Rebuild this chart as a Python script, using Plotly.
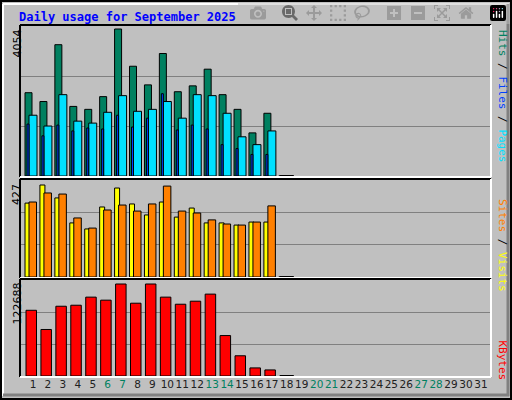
import plotly.graph_objects as go

days = list(range(1, 32))
data_days = list(range(1, 19))
hits = [2297, 2054, 3621, 1919, 1838, 2189, 4054, 3027, 2513, 3378, 2324, 2486, 2946, 2243, 1838, 1189, 1730, 0]
pages = [1676, 1378, 2243, 1513, 1459, 1757, 2216, 1784, 1838, 2054, 1595, 2243, 2216, 1730, 1081, 865, 1243, 0]
files = [1432, 1108, 1405, 1243, 1324, 1297, 1676, 1351, 1595, 2270, 1270, 1405, 1297, 865, 757, 595, 595, 0]
visits = [343, 427, 367, 251, 223, 325, 413, 339, 288, 348, 278, 320, 251, 251, 241, 255, 255, 0]
sites = [348, 390, 385, 274, 227, 311, 334, 306, 339, 422, 306, 297, 265, 246, 241, 255, 330, 0]
kbytes = [87634, 62019, 93028, 94376, 105163, 101118, 122688, 97073, 122688, 105163, 95725, 99770, 109207, 53930, 26965, 10786, 8089, 0]
weekend = [6, 7, 13, 14, 20, 21, 27, 28]

S = 14.93
def u(px): return px / S

fig = go.Figure()
ln = dict(color="black", width=1)
def bar(y, color, off, w, ax):
    fig.add_trace(go.Bar(x=data_days, y=y, offset=u(off), width=u(w), marker=dict(color=color, line=ln),
                         xaxis="x" + ax, yaxis="y" + ax, showlegend=False))
def zero(ax):
    fig.add_trace(go.Scatter(x=[18], y=[0], mode="markers", marker=dict(symbol="line-ew", size=10, line=dict(color="black", width=2)),
                             xaxis="x" + ax, yaxis="y" + ax, showlegend=False))

bar(hits, "#008060", -8, 7, "3")
bar(pages, "#00e0ff", -4, 8, "3")
bar(files, "#0040ff", -6, 2, "3")
zero("3")
bar(visits, "#ffff00", -8, 5, "2")
bar(sites, "#ff8000", -4, 7.5, "2")
zero("2")
bar(kbytes, "#ff0000", -7, 10.5, "")
zero("")

xr = [1 - 13 / S, 1 + 458 / S]
xd = [20 / 512, 491 / 512]
def ydom(t, b): return [1 - b / 400, 1 - t / 400]
ticktext = [f"<span style='color:#008060'>{d}</span>" if d in weekend else str(d) for d in days]
lay = dict(
    width=512, height=400, margin=dict(l=0, r=0, t=0, b=0, autoexpand=False),
    paper_bgcolor="#c0c0c0", plot_bgcolor="#c0c0c0", barmode="overlay",
    font=dict(family="DejaVu Sans", size=11, color="black"),
    xaxis=dict(domain=xd, range=xr, tickvals=days, ticktext=ticktext, ticks="", showgrid=False, zeroline=False,
               anchor="y", tickangle=0, automargin=False, tickfont=dict(size=10.5, color="#202020")),
    xaxis2=dict(domain=xd, range=xr, showticklabels=False, showgrid=False, zeroline=False, anchor="y2"),
    xaxis3=dict(domain=xd, range=xr, showticklabels=False, showgrid=False, zeroline=False, anchor="y3"),
)
for name, dom, top in [("yaxis", ydom(280, 376), 122688 * 96 / 92), ("yaxis2", ydom(180, 277), 427 * 97 / 92), ("yaxis3", ydom(26, 176), 4054 * 150 / 147)]:
    lay[name] = dict(domain=dom, range=[0, top], tickvals=[top / 3, 2 * top / 3], showticklabels=False,
                     gridcolor="#808080", gridwidth=1, zeroline=False, anchor=name.replace("yaxis", "x"))
fig.update_layout(**lay)

shapes = [
    dict(type="rect", xref="paper", yref="paper", x0=1/512, x1=511/512, y0=1/400, y1=399/400, line=dict(color="black", width=2)),
    dict(type="line", xref="paper", yref="paper", x0=3/512, x1=509/512, y0=396/400, y1=396/400, line=dict(color="white", width=2)),
    dict(type="line", xref="paper", yref="paper", x0=3/512, x1=3/512, y0=4/400, y1=396/400, line=dict(color="white", width=2)),
    dict(type="line", xref="paper", yref="paper", x0=3/512, x1=509/512, y0=5/400, y1=5/400, line=dict(color="#808080", width=3)),
    dict(type="line", xref="paper", yref="paper", x0=508/512, x1=508/512, y0=4/400, y1=396/400, line=dict(color="#808080", width=3)),
]
for t, b in [(25, 177), (179, 278), (279, 377)]:
    y0, y1 = 1 - b / 400, 1 - t / 400
    x0, x1 = 20 / 512, 491 / 512
    shapes += [
        dict(type="line", xref="paper", yref="paper", x0=x0, x1=x1, y0=y1, y1=y1, line=dict(color="black", width=2)),
        dict(type="line", xref="paper", yref="paper", x0=x0, x1=x0, y0=y0, y1=y1, line=dict(color="black", width=2)),
        dict(type="line", xref="paper", yref="paper", x0=x0, x1=x1, y0=y0, y1=y0, line=dict(color="white", width=2)),
        dict(type="line", xref="paper", yref="paper", x0=x1, x1=x1, y0=y0, y1=y1, line=dict(color="white", width=2)),
    ]
fig.update_layout(shapes=shapes)

def ann(text, x, y, angle=0, xa="left", ya="top", size=11, color="black", family="DejaVu Sans"):
    fig.add_annotation(text=text, x=x / 512, y=1 - y / 400, xref="paper", yref="paper", textangle=angle,
                       xanchor=xa, yanchor=ya, showarrow=False, font=dict(size=size, color=color, family=family))

ann("<b>Daily usage for September 2025</b>", 17, 8, size=12, color="#0000ff", family="DejaVu Sans Mono")
ann("4054", 8, 28, angle=-90)
ann("427", 8, 182, angle=-90)
ann("122688", 8, 281, angle=-90)
ann("<span style='color:#008060'>Hits</span> / <span style='color:#0040ff'>Files</span> / <span style='color:#00e0ff'>Pages</span>",
    494, 28, angle=90, size=11, family="DejaVu Sans Mono")
ann("<span style='color:#ff8000'>Sites</span> / <span style='color:#ffff00'>Visits</span>",
    494, 197, angle=90, size=11, family="DejaVu Sans Mono")
ann("<span style='color:#ff0000'>KBytes</span>", 494, 338, angle=90, size=11, family="DejaVu Sans Mono")

fig.write_html("out.html", post_script="document.body.style.margin='0';")
